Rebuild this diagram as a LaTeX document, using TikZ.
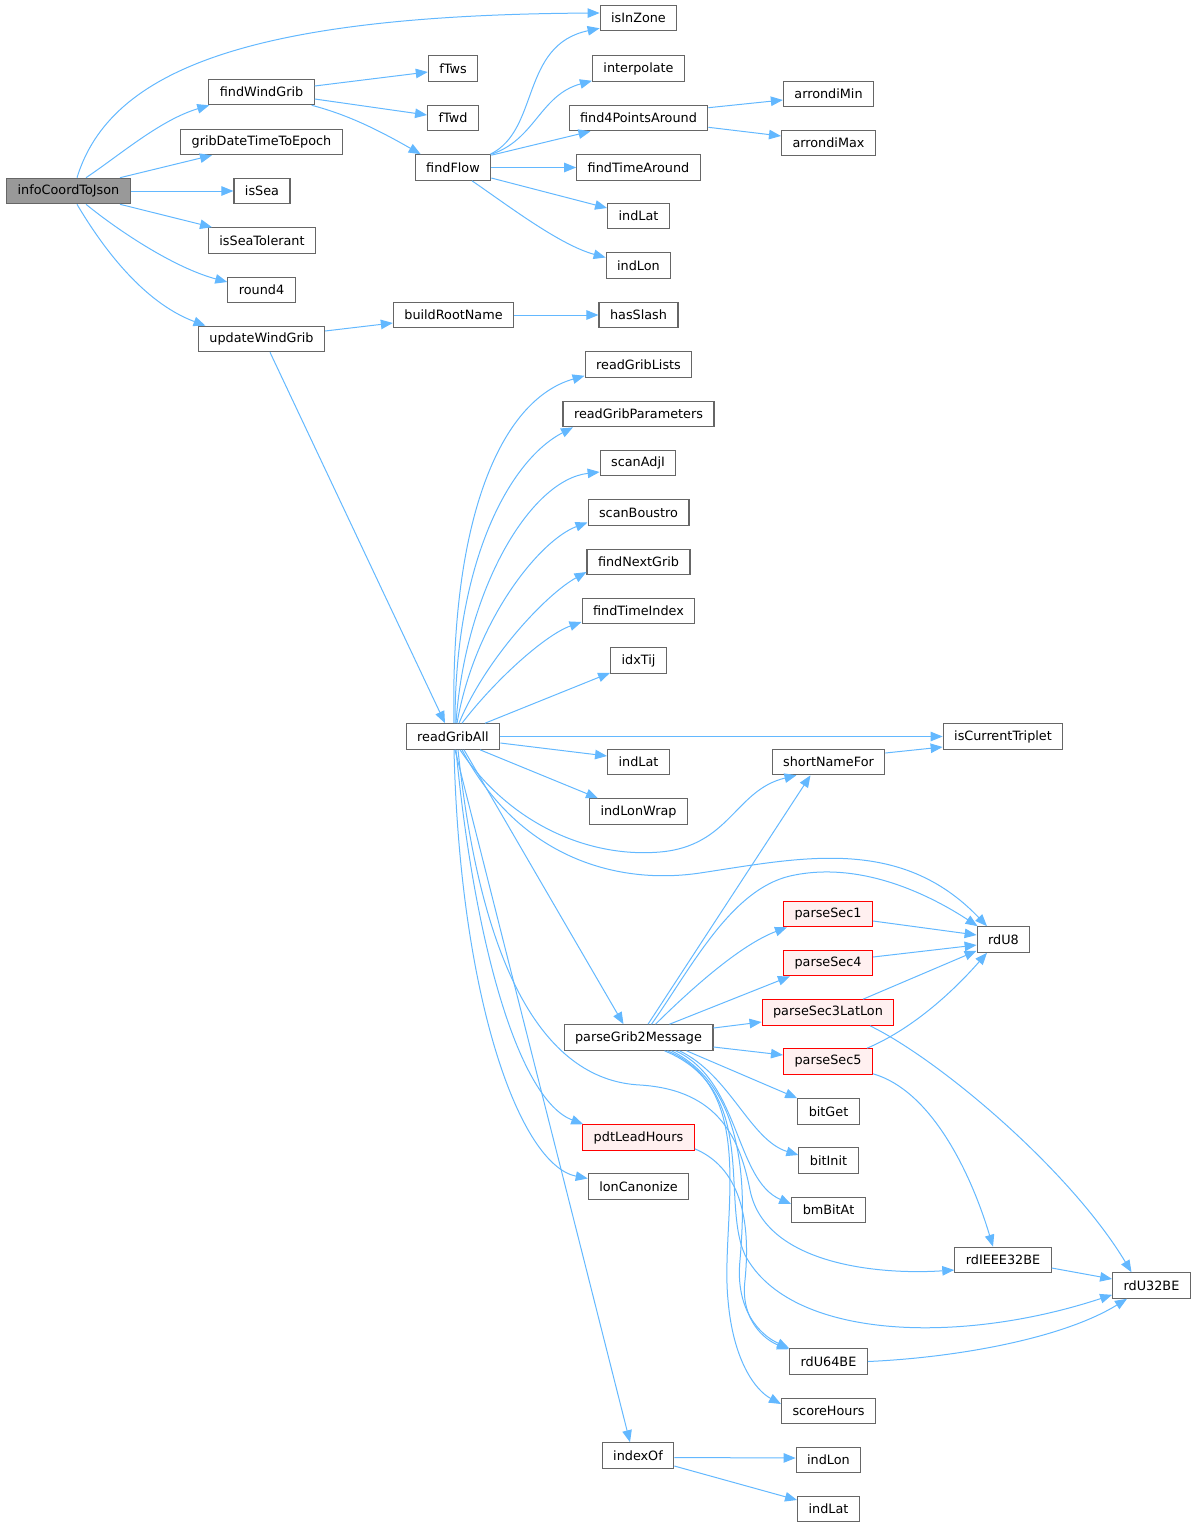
\documentclass[tikz,border=0pt]{standalone}
\usepackage{fontspec}
\setmainfont{DejaVu Sans}
\usetikzlibrary{arrows.meta}
\definecolor{callblue}{HTML}{63B8FF}
\definecolor{boxgray}{HTML}{666666}
\definecolor{rootgray}{HTML}{999999}
\definecolor{truncfill}{HTML}{FFF0F0}
\tikzset{
  fn/.style={draw=boxgray, line width=1.1pt, fill=white, minimum height=25.5pt,
    inner xsep=11pt, inner ysep=0pt, font=\fontsize{12.8}{15}\selectfont},
  rootfn/.style={fn, fill=rootgray},
  truncfn/.style={fn, draw=red, fill=truncfill},
  callarrow/.style={draw=callblue, line width=1pt, -{Triangle[length=12pt,width=9.5pt]}},
}
\begin{document}
\begin{tikzpicture}[x=1pt,y=1pt]
  \useasboundingbox (0,0) rectangle (1196,-1528);

  \node[rootfn] (icj) at (68.5,-191) {infoCoordToJson};
  \node[fn] (findWindGrib) at (261.5,-92) {findWindGrib};
  \node[fn] (gribDate) at (261.5,-142) {gribDateTimeToEpoch};
  \node[fn] (isSea) at (262,-191) {isSea};
  \node[fn] (isSeaTol) at (262,-240.5) {isSeaTolerant};
  \node[fn] (round4) at (261.5,-290) {round4};
  \node[fn] (updWind) at (261.5,-339) {updateWindGrib};
  \node[fn] (buildRoot) at (453.5,-315) {buildRootName};
  \node[fn] (fTws) at (453,-68.5) {fTws};
  \node[fn] (fTwd) at (453,-118) {fTwd};
  \node[fn] (findFlow) at (453,-167.5) {findFlow};
  \node[fn] (isInZone) at (638.5,-18) {isInZone};
  \node[fn] (interp) at (638.5,-68.5) {interpolate};
  \node[fn] (find4) at (638.5,-118) {find4PointsAround};
  \node[fn] (findTimeAround) at (638.5,-167.5) {findTimeAround};
  \node[fn] (indLatA) at (638.5,-216) {indLat};
  \node[fn] (indLonA) at (638.5,-265.5) {indLon};
  \node[fn] (hasSlash) at (638.5,-315) {hasSlash};
  \node[fn] (arrMin) at (828.5,-94) {arrondiMin};
  \node[fn] (arrMax) at (828.5,-143) {arrondiMax};
  \node[fn] (readLists) at (638.5,-364.5) {readGribLists};
  \node[fn] (readParams) at (638.5,-414) {readGribParameters};
  \node[fn] (scanAdj) at (638,-463) {scanAdjI};
  \node[fn] (scanBous) at (638.5,-512.5) {scanBoustro};
  \node[fn] (findNext) at (638.5,-562) {findNextGrib};
  \node[fn] (findTimeIdx) at (638.5,-611) {findTimeIndex};
  \node[fn] (idxTij) at (638.5,-660.5) {idxTij};
  \node[fn] (rga) at (453,-736.5) {readGribAll};
  \node[fn] (indLatB) at (638.5,-762) {indLat};
  \node[fn] (indLonWrap) at (638.5,-811.5) {indLonWrap};
  \node[fn] (curTriplet) at (1003,-736.5) {isCurrentTriplet};
  \node[fn] (shortName) at (828.5,-762) {shortNameFor};
  \node[truncfn] (sec1) at (828,-914) {parseSec1};
  \node[truncfn] (sec4) at (828,-963) {parseSec4};
  \node[truncfn] (sec3) at (828,-1012.5) {parseSec3LatLon};
  \node[truncfn] (sec5) at (828,-1061.5) {parseSec5};
  \node[fn] (rdU8) at (1003.5,-939.5) {rdU8};
  \node[fn] (pgm) at (638.5,-1037.5) {parseGrib2Message};
  \node[truncfn] (pdtLead) at (638.5,-1137.5) {pdtLeadHours};
  \node[fn] (lonCanon) at (638.5,-1186.5) {lonCanonize};
  \node[fn] (indexOf) at (638,-1455.5) {indexOf};
  \node[fn] (bitGet) at (828.5,-1111.5) {bitGet};
  \node[fn] (bitInit) at (828.5,-1160.5) {bitInit};
  \node[fn] (bmBitAt) at (828.5,-1210) {bmBitAt};
  \node[fn] (rdIEEE) at (1003,-1260) {rdIEEE32BE};
  \node[fn] (rdU32) at (1151.5,-1285.5) {rdU32BE};
  \node[fn] (rdU64) at (828.5,-1361.5) {rdU64BE};
  \node[fn] (scoreHours) at (828.5,-1411) {scoreHours};
  \node[fn] (indLonC) at (828.5,-1460) {indLon};
  \node[fn] (indLatC) at (828.5,-1509) {indLat};

  % calls from infoCoordToJson
  \draw[callarrow] ([xshift=8.5pt]icj.north) .. controls (110,-70) and (250,-15) .. ([yshift=5pt]isInZone.west);
  \draw[callarrow] ([xshift=17.5pt]icj.north) .. controls (120,-155) and (160,-120) .. ([xshift=1pt]findWindGrib.south west);
  \draw[callarrow] ([xshift=51.5pt]icj.north) -- ([xshift=-49.5pt]gribDate.south);
  \draw[callarrow] (icj) -- (isSea);
  \draw[callarrow] ([xshift=51.5pt]icj.south) -- ([xshift=-50pt]isSeaTol.north);
  \draw[callarrow] ([xshift=17.5pt]icj.south) .. controls (120,-232) and (175,-268) .. ([yshift=8pt]round4.west);
  \draw[callarrow] ([xshift=8.5pt]icj.south) .. controls (110,-260) and (150,-305) .. ([xshift=-56pt]updWind.north);

  \draw[callarrow] ([yshift=6pt]findWindGrib.east) -- ([yshift=-3.5pt]fTws.west);
  \draw[callarrow] ([yshift=-7pt]findWindGrib.east) -- ([yshift=3pt]fTwd.west);
  \draw[callarrow] ([xshift=-3pt]findWindGrib.south east) .. controls (345,-114) and (375,-128) .. ([xshift=6pt]findFlow.north west);

  \draw[callarrow] ([xshift=-1pt]findFlow.north east) .. controls (540,-130) and (520,-45) .. ([yshift=3pt]isInZone.south west);
  \draw[callarrow] (findFlow.north east) .. controls (535,-140) and (540,-95) .. ([yshift=1pt]interp.south west);
  \draw[callarrow] ([yshift=-1pt]findFlow.north east) -- ([xshift=-48pt]find4.south);
  \draw[callarrow] (findFlow) -- (findTimeAround);
  \draw[callarrow] ([yshift=-10.5pt]findFlow.east) -- ([yshift=8pt]indLatA.west);
  \draw[callarrow] ([xshift=19pt]findFlow.south) .. controls (510,-207) and (560,-245) .. ([yshift=8pt]indLonA.west);

  \draw[callarrow] ([yshift=-3pt]find4.north east) -- ([yshift=-6pt]arrMin.west);
  \draw[callarrow] ([yshift=4pt]find4.south east) -- ([yshift=7pt]arrMax.west);

  \draw[callarrow] ([yshift=8pt]updWind.east) -- ([yshift=-8pt]buildRoot.west);
  \draw[callarrow] ([xshift=8.5pt]updWind.south) -- ([xshift=-8pt]rga.north);
  \draw[callarrow] (buildRoot) -- (hasSlash);

  % calls from readGribAll
  \draw[callarrow] ([xshift=1pt]rga.north) .. controls (450,-520) and (500,-400) .. ([yshift=2pt]readLists.south west);
  \draw[callarrow] ([xshift=2pt]rga.north) .. controls (455,-560) and (510,-460) .. ([xshift=-65.5pt]readParams.south);
  \draw[callarrow] ([xshift=3pt]rga.north) .. controls (465,-590) and (530,-480) .. ([yshift=-9pt]scanAdj.west);
  \draw[callarrow] ([xshift=4pt]rga.north) .. controls (475,-620) and (540,-540) .. ([yshift=-10pt]scanBous.west);
  \draw[callarrow] ([xshift=6pt]rga.north) .. controls (485,-660) and (545,-595) .. ([yshift=-10pt]findNext.west);
  \draw[callarrow] ([xshift=9pt]rga.north) .. controls (495,-680) and (545,-635) .. ([yshift=-11pt]findTimeIdx.west);
  \draw[callarrow] ([xshift=32pt]rga.north) -- ([yshift=1pt]idxTij.south west);
  \draw[callarrow] (rga) -- (curTriplet);
  \draw[callarrow] ([yshift=-6.5pt]rga.east) -- ([yshift=6pt]indLatB.west);
  \draw[callarrow] ([xshift=27pt]rga.south) -- ([xshift=9pt]indLonWrap.north west);
  \draw[callarrow] ([xshift=7pt]rga.south) .. controls (510,-825) and (590,-858) .. (660,-852)
    .. controls (730,-846) and (735,-790) .. ([xshift=-32pt]shortName.south);
  \draw[callarrow] ([xshift=9pt]rga.south) .. controls (520,-860) and (620,-885) .. (700,-873)
    .. controls (800,-858) and (900,-835) .. ([xshift=-16.5pt]rdU8.north);
  \draw[callarrow] ([xshift=11pt]rga.south) -- ([xshift=-15pt]pgm.north);
  \draw[callarrow] ([xshift=3pt]rga.south) .. controls (475,-950) and (520,-1100) .. ([xshift=1pt]pdtLead.north west);
  \draw[callarrow] ([xshift=1pt]rga.south) .. controls (460,-1000) and (520,-1165) .. ([yshift=8pt]lonCanon.west);
  \draw[callarrow] ([xshift=2pt]rga.south) -- ([xshift=-8pt]indexOf.north);
  \draw[callarrow] ([xshift=5pt]rga.south) .. controls (480,-960) and (540,-1080) .. (640,-1085)
    .. controls (720,-1090) and (740,-1140) .. (750,-1190)
    .. controls (765,-1265) and (880,-1275) .. ([yshift=-10pt]rdIEEE.west);

  % calls from parseGrib2Message
  \draw[callarrow] ([xshift=9.5pt]pgm.north) -- ([xshift=-18pt]shortName.south);
  \draw[callarrow] ([xshift=13pt]pgm.north) .. controls (690,-970) and (730,-890) .. (790,-876)
    .. controls (860,-860) and (930,-895) .. ([xshift=1pt]rdU8.north west);
  \draw[callarrow] ([xshift=17pt]pgm.north) .. controls (690,-990) and (740,-945) .. ([xshift=4pt]sec1.south west);
  \draw[callarrow] ([xshift=31pt]pgm.north) -- ([xshift=7pt]sec4.south west);
  \draw[callarrow] ([yshift=9.5pt]pgm.east) -- ([yshift=-9.5pt]sec3.west);
  \draw[callarrow] ([yshift=-9.5pt]pgm.east) -- ([yshift=6.5pt]sec5.west);
  \draw[callarrow] ([xshift=48pt]pgm.south) -- (bitGet.north west);
  \draw[callarrow] ([xshift=41pt]pgm.south) .. controls (730,-1075) and (750,-1140) .. ([yshift=5.5pt]bitInit.west);
  \draw[callarrow] ([xshift=37pt]pgm.south) .. controls (740,-1080) and (735,-1180) .. ([yshift=6pt]bmBitAt.west);
  \draw[callarrow] ([xshift=33pt]pgm.south) .. controls (750,-1090) and (745,-1200) .. (740,-1260)
    .. controls (735,-1310) and (760,-1335) .. (rdU64.north west);
  \draw[callarrow] ([xshift=29pt]pgm.south) .. controls (760,-1090) and (720,-1220) .. (728,-1300)
    .. controls (733,-1360) and (755,-1390) .. ([yshift=7pt]scoreHours.west);
  \draw[callarrow] ([xshift=26pt]pgm.south) .. controls (760,-1090) and (720,-1200) .. (745,-1255)
    .. controls (790,-1340) and (960,-1345) .. ([yshift=4pt]rdU32.south west);
  \draw[callarrow] ([yshift=2pt]pdtLead.south east) .. controls (745,-1170) and (750,-1230) .. (745,-1280)
    .. controls (740,-1320) and (765,-1340) .. ([yshift=-1pt]rdU64.north west);

  \draw[callarrow] ([yshift=-7pt]sec1.east) -- ([yshift=4.5pt]rdU8.west);
  \draw[callarrow] ([yshift=6pt]sec4.east) -- ([yshift=-5.5pt]rdU8.west);
  \draw[callarrow] ([xshift=35pt]sec3.north) -- ([yshift=2pt]rdU8.south west);
  \draw[callarrow] ([xshift=39pt]sec5.north) .. controls (910,-1030) and (950,-995) .. ([xshift=-16.5pt]rdU8.south);
  \draw[callarrow] ([xshift=42pt]sec3.south) .. controls (940,-1060) and (1070,-1170) .. ([xshift=-20pt]rdU32.north);
  \draw[callarrow] ([yshift=1pt]sec5.south east) .. controls (930,-1090) and (970,-1170) .. ([xshift=-10pt]rdIEEE.north);
  \draw[callarrow] ([yshift=-8pt]rdIEEE.east) -- ([yshift=6.5pt]rdU32.west);
  \draw[callarrow] (rdU64.east) .. controls (950,-1358) and (1060,-1340) .. ([xshift=-24.5pt]rdU32.south);
  \draw[callarrow] ([yshift=9pt]shortName.east) -- ([yshift=-10.5pt]curTriplet.west);

  \draw[callarrow] ([yshift=-2pt]indexOf.east) -- ([yshift=2pt]indLonC.west);
  \draw[callarrow] ([yshift=-10.5pt]indexOf.east) -- ([yshift=9pt]indLatC.west);
\end{tikzpicture}
\end{document}
